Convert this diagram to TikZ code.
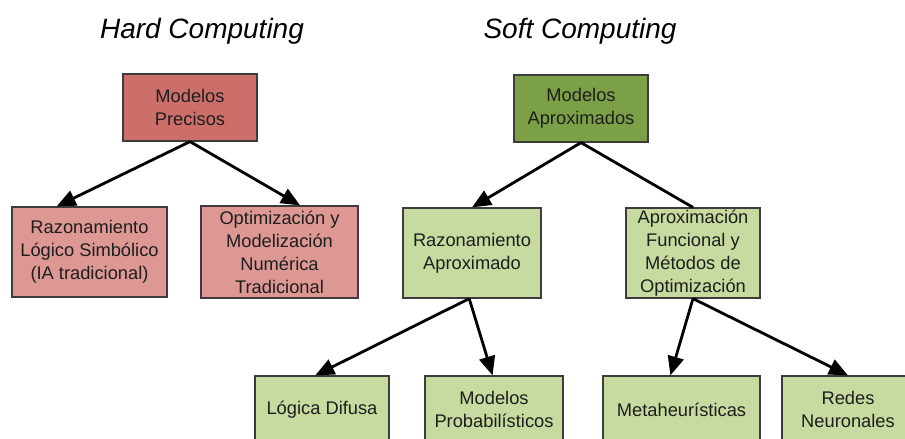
\documentclass[tikz,border=0pt]{standalone}
\usepackage{fontspec}
\setmainfont{Liberation Sans}
\usetikzlibrary{arrows.meta,calc}
\definecolor{redDark}{HTML}{CC6E6A}
\definecolor{redLight}{HTML}{DE9893}
\definecolor{greenDark}{HTML}{7BA046}
\definecolor{greenLight}{HTML}{C7DA9F}
\definecolor{boxLine}{HTML}{3C3C3C}
\definecolor{txt}{HTML}{1E1E1E}
\tikzset{
  box/.style={draw=boxLine, line width=1.2pt, align=center, inner sep=0pt,
    text=txt, font=\fontsize{18.3}{23}\selectfont},
  title/.style={font=\fontsize{28}{32}\selectfont\itshape, text=black, anchor=base},
  conn/.style={line width=2.8pt, black},
  arr/.style={conn, -{Triangle[length=19pt,width=16pt]}}
}
\begin{document}
\begin{tikzpicture}[x=1pt,y=-1pt]
\useasboundingbox (0,0) rectangle (905,439);
% titles
\node[title] (th) at (202,38) {Hard Computing};
\node[title] (ts) at (580,38) {Soft Computing};
% hard computing
\node[box, fill=redDark, minimum width=134pt, minimum height=67pt] (mp) at (190,107.5) {Modelos\\Precisos};
\node[box, fill=redLight, minimum width=155pt, minimum height=90pt] (rls) at (89.5,252) {Razonamiento\\Lógico Simbólico\\(IA tradicional)};
\node[box, fill=redLight, minimum width=157pt, minimum height=92pt] (omn) at (279.5,252) {Optimización y\\Modelización\\Numérica\\Tradicional};
% soft computing
\node[box, fill=greenDark, minimum width=134pt, minimum height=67pt] (ma) at (581,108.5) {Modelos\\Aproximados};
\node[box, fill=greenLight, minimum width=138pt, minimum height=90pt] (ra) at (472,253) {Razonamiento\\Aproximado};
\node[box, fill=greenLight, minimum width=134pt, minimum height=90pt] (af) at (693,253) {Aproximación\\Funcional y\\Métodos de\\Optimización};
\node[box, fill=greenLight, minimum width=134pt, minimum height=67pt] (ld) at (322,409.5) {Lógica Difusa};
\node[box, fill=greenLight, minimum width=138pt, minimum height=67pt] (mpb) at (494,409.5) {Modelos\\Probabilísticos};
\node[box, fill=greenLight, minimum width=157pt, minimum height=67pt] (mh) at (681.5,409.5) {Metaheurísticas};
\node[box, fill=greenLight, minimum width=132pt, minimum height=67pt] (rn) at (848,409.5) {Redes\\Neuronales};
% connectors
\draw[arr] (mp.south) -- ($(rls.north west)!0.29!(rls.north east)$);
\draw[arr] (mp.south) -- ($(omn.north west)!0.63!(omn.north east)$);
\draw[arr] (ma.south) -- (ra.north);
\draw[conn] (ma.south) -- (af.north);
\draw[arr] ($(ra.south west)!0.48!(ra.south east)$) -- ($(ld.north west)!0.45!(ld.north east)$);
\draw[arr] ($(ra.south west)!0.48!(ra.south east)$) -- ($(mpb.north west)!0.49!(mpb.north east)$);
\draw[arr] (af.south) -- ($(mh.north west)!0.43!(mh.north east)$);
\draw[arr] (af.south) -- (rn.north);
\end{tikzpicture}
\end{document}
